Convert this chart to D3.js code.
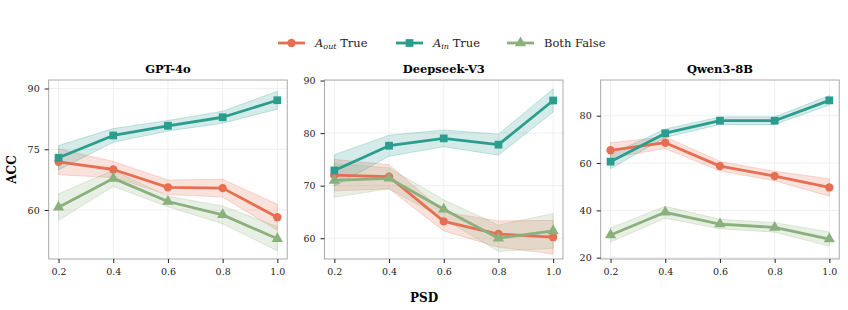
<!DOCTYPE html>
<html>
<head>
<meta charset="utf-8">
<script src="https://cdn.jsdelivr.net/npm/d3@7"></script>
<style>
  body { margin: 0; background: #fff; }
  svg text { font-family: "DejaVu Serif", serif; }
</style>
</head>
<body>
<div id="chart"></div>
<script>
const psd = [0.2, 0.4, 0.6, 0.8, 1.0]
const models = ["GPT-4o", "Deepseek-V3", "Qwen3-8B"]

// mean values per model
const aoutTrue = [
    [71.9, 70.0, 65.6, 65.4, 58.2],
    [72.0, 71.7, 63.2, 60.8, 60.2],
    [65.4, 68.6, 58.7, 54.5, 49.7]
]
const ainTrue = [
    [72.9, 78.4, 80.8, 82.9, 87.1],
    [72.9, 77.6, 79.0, 77.8, 86.2],
    [60.6, 72.6, 77.9, 77.9, 86.5]
]
const bothFalse = [
    [60.7, 67.8, 62.1, 58.8, 52.9],
    [71.0, 71.4, 65.5, 60.0, 61.4],
    [29.6, 39.2, 34.2, 32.8, 27.9]
]
// half widths of the shaded bands
const aoutErr = [
    [3.2, 2.0, 1.8, 2.2, 3.2],
    [3.0, 2.3, 1.8, 2.5, 3.2],
    [3.2, 2.5, 2.0, 2.0, 3.7]
]
const ainErr = [
    [3.0, 1.7, 1.3, 1.5, 2.2],
    [3.0, 2.0, 1.6, 2.0, 2.2],
    [3.0, 1.8, 1.6, 1.6, 2.0]
]
const bothErr = [
    [3.3, 2.0, 1.3, 2.2, 3.0],
    [3.2, 2.0, 1.8, 2.5, 3.3],
    [3.0, 2.5, 2.0, 2.0, 3.0]
]

const yDomains = [[47.9, 92.1], [56.05, 90.1], [19.45, 95.1]]
const yTicks = [[60, 75, 90], [60, 70, 80, 90], [20, 40, 60, 80]]

const series = [
    { name: "out", label: "A", sub: "out", values: aoutTrue, err: aoutErr, color: "#e76f51", marker: d3.symbolCircle, size: 55 },
    { name: "in", label: "A", sub: "in", values: ainTrue, err: ainErr, color: "#2a9d8f", marker: d3.symbolSquare, size: 60 },
    { name: "both", label: "Both False", values: bothFalse, err: bothErr, color: "#8ab17d", marker: d3.symbolTriangle, size: 55 }
]

const W = 848, H = 310
const svg = d3.select("#chart").append("svg")
    .attr("width", W)
    .attr("height", H)

const lefts = [48.7, 324.5, 600.7]
const pw = 238.5
const plotTop = 80, plotBottom = 259

models.forEach((m, i) => {
    const x = d3.scaleLinear().domain([0.164, 1.036]).range([lefts[i], lefts[i] + pw])
    const y = d3.scaleLinear().domain(yDomains[i]).range([plotBottom, plotTop])
    const g = svg.append("g")

    // grid
    g.selectAll(".gx").data(psd).enter().append("line")
        .attr("x1", d => x(d)).attr("x2", d => x(d))
        .attr("y1", plotTop).attr("y2", plotBottom)
        .attr("stroke", "#ebebeb").attr("stroke-width", 0.8)
    g.selectAll(".gy").data(yTicks[i]).enter().append("line")
        .attr("x1", lefts[i]).attr("x2", lefts[i] + pw)
        .attr("y1", d => y(d)).attr("y2", d => y(d))
        .attr("stroke", "#ebebeb").attr("stroke-width", 0.8)

    // frame
    g.append("rect")
        .attr("x", lefts[i]).attr("y", plotTop)
        .attr("width", pw).attr("height", plotBottom - plotTop)
        .attr("fill", "none").attr("stroke", "#a0a0a0").attr("stroke-width", 0.9)

    // axes
    const xa = g.append("g")
        .attr("transform", `translate(0,${plotBottom})`)
        .call(d3.axisBottom(x).tickValues(psd).tickFormat(d3.format(".1f")).tickSize(4).tickPadding(5))
    const ya = g.append("g")
        .attr("transform", `translate(${lefts[i]},0)`)
        .call(d3.axisLeft(y).tickValues(yTicks[i]).tickSize(4).tickPadding(5))
    ;[xa, ya].forEach(a => {
        a.select(".domain").remove()
        a.selectAll("line").attr("stroke", "#222").attr("stroke-width", 1)
        a.selectAll("text").attr("font-size", 9.5).attr("fill", "#222")
            .style("font-family", "DejaVu Serif")
    })

    // bands
    series.forEach(s => {
        const area = d3.area()
            .x((d, k) => x(psd[k]))
            .y0((d, k) => y(d - s.err[i][k]))
            .y1((d, k) => y(d + s.err[i][k]))
        g.append("path")
            .datum(s.values[i])
            .attr("d", area)
            .attr("fill", s.color).attr("fill-opacity", 0.2)
            .attr("stroke", s.color).attr("stroke-opacity", 0.25).attr("stroke-width", 1)
    })

    // lines + markers
    series.forEach(s => {
        g.append("path")
            .datum(s.values[i])
            .attr("d", d3.line().x((d, k) => x(psd[k])).y(d => y(d)))
            .attr("fill", "none").attr("stroke", s.color).attr("stroke-width", 2.8)
            .attr("stroke-linejoin", "round")
        g.selectAll(".mk-" + s.name).data(s.values[i]).enter().append("path")
            .attr("transform", (d, k) => `translate(${x(psd[k])},${y(d)})`)
            .attr("d", d3.symbol().type(s.marker).size(s.size))
            .attr("fill", s.color)
    })

    // title
    svg.append("text")
        .attr("x", lefts[i] + pw / 2).attr("y", 73)
        .attr("text-anchor", "middle")
        .attr("font-size", 11.5).attr("font-weight", "bold")
        .text(m)
})

// axis titles
svg.append("text")
    .attr("transform", `translate(16,${(plotTop + plotBottom) / 2}) rotate(-90)`)
    .attr("text-anchor", "middle")
    .attr("font-size", 12).attr("font-weight", "bold")
    .text("ACC")
svg.append("text")
    .attr("x", 424).attr("y", 302)
    .attr("text-anchor", "middle")
    .attr("font-size", 12).attr("font-weight", "bold")
    .text("PSD")

// legend
const legendX = [278, 396, 507]
const leg = svg.append("g")
series.forEach((s, k) => {
    const lx = legendX[k], ly = 43
    leg.append("line")
        .attr("x1", lx).attr("x2", lx + 27)
        .attr("y1", ly).attr("y2", ly)
        .attr("stroke", s.color).attr("stroke-width", 2.8)
    leg.append("path")
        .attr("transform", `translate(${lx + 13.5},${ly})`)
        .attr("d", d3.symbol().type(s.marker).size(s.size))
        .attr("fill", s.color)
    const t = leg.append("text")
        .attr("x", lx + 37).attr("y", ly + 4)
        .attr("font-size", 11.5).attr("fill", "#222")
    if (s.sub) {
        t.append("tspan").attr("font-style", "italic").text(s.label)
        t.append("tspan").attr("font-style", "italic").attr("font-size", 8).attr("dy", 2).text(s.sub)
        t.append("tspan").attr("dy", -2).text(" True")
    } else {
        t.text(s.label)
    }
})
</script>
</body>
</html>
